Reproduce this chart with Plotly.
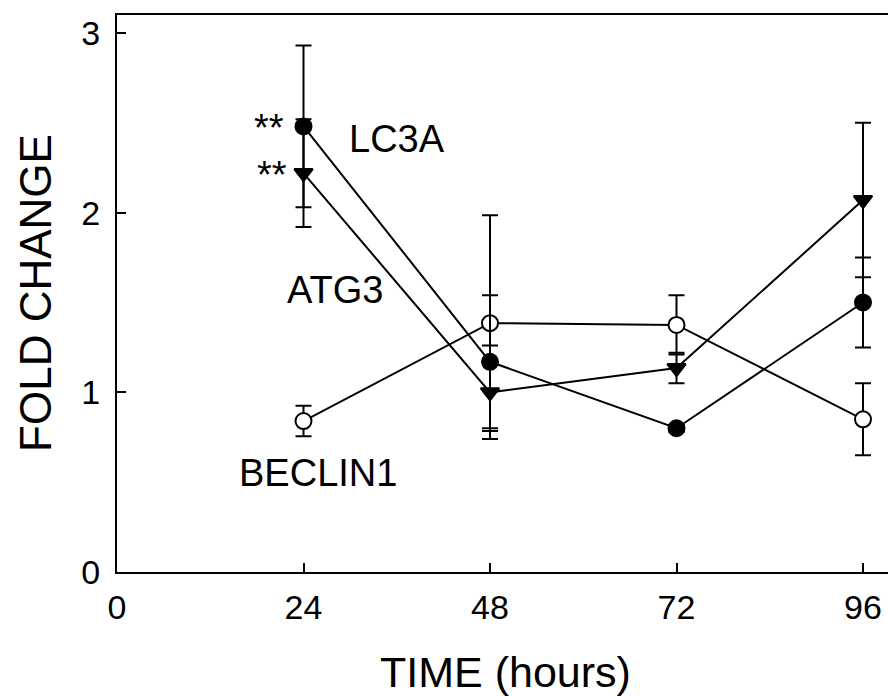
import plotly.graph_objects as go

hours = [24, 48, 72, 96]

lc3a = [2.48, 1.17, 0.80, 1.50]
lc3a_err = [0.45, 0.37, 0.02, 0.25]

atg3 = [2.22, 1.00, 1.135, 2.07]
atg3_err = [0.30, 0.26, 0.085, 0.43]

beclin1 = [0.84, 1.385, 1.375, 0.85]
beclin1_err = [0.085, 0.60, 0.165, 0.20]

x_ticks = [0, 24, 48, 72, 96]
y_ticks = [0, 1, 2, 3]

FONT = "Liberation Sans, Arial, sans-serif"

fig = go.Figure()

def add_series(y, err, symbol, fill, name):
    fig.add_trace(go.Scatter(
        x=hours, y=y, name=name, mode="lines+markers",
        line=dict(color="black", width=2),
        marker=dict(symbol=symbol, size=16, color=fill,
                    line=dict(color="black", width=2)),
        error_y=dict(type="data", array=err, visible=True,
                     color="black", thickness=2, width=8),
        cliponaxis=False,
    ))

add_series(beclin1, beclin1_err, "circle", "white", "BECLIN1")
add_series(atg3, atg3_err, "triangle-down", "black", "ATG3")
add_series(lc3a, lc3a_err, "circle", "black", "LC3A")

labels = [
    dict(x=36.0, y=2.41, text="LC3A"),
    dict(x=28.0, y=1.57, text="ATG3"),
    dict(x=25.9, y=0.55, text="BECLIN1"),
    dict(x=19.6, y=2.47, text="**"),
    dict(x=19.9, y=2.21, text="**"),
]
for a in labels:
    fig.add_annotation(x=a["x"], y=a["y"], text=a["text"], showarrow=False,
                       xref="x", yref="y", xanchor="center", yanchor="middle",
                       font=dict(family=FONT, size=38, color="black"))

W = 900
plot_w = W - 117
fig.add_annotation(x=(36 - 117) / plot_w, y=0.501, xref="paper", yref="paper",
                   text="FOLD CHANGE", textangle=-90, showarrow=False,
                   xanchor="center", yanchor="middle",
                   font=dict(family=FONT, size=44, color="black"))
fig.add_annotation(x=(505 - 117) / plot_w, y=-0.18, xref="paper", yref="paper",
                   text="TIME (hours)", showarrow=False,
                   xanchor="center", yanchor="middle",
                   font=dict(family=FONT, size=43, color="black"))

fig.update_xaxes(range=[0, plot_w / 186.5 * 24], tickvals=x_ticks,
                 ticks="inside", ticklen=9, tickwidth=1.5, tickcolor="black",
                 showline=True, linecolor="black", linewidth=2, mirror=True,
                 showgrid=False, zeroline=False,
                 tickfont=dict(family=FONT, size=34, color="black"),
                 ticklabelstandoff=4)
fig.update_yaxes(range=[0, 3.10], tickvals=y_ticks, ticks="inside", ticklen=9,
                 tickwidth=1.5, tickcolor="black",
                 showline=True, linecolor="black", linewidth=2,
                 showgrid=False, zeroline=False,
                 tickfont=dict(family=FONT, size=34, color="black"),
                 ticklabelstandoff=8)

fig.update_layout(width=W, height=696,
                  margin=dict(l=117, r=0, t=15, b=124),
                  plot_bgcolor="white", paper_bgcolor="white",
                  showlegend=False)

fig.write_html("out.html", config={"displayModeBar": False},
               post_script="document.body.style.margin='0';document.body.style.overflow='hidden';")
